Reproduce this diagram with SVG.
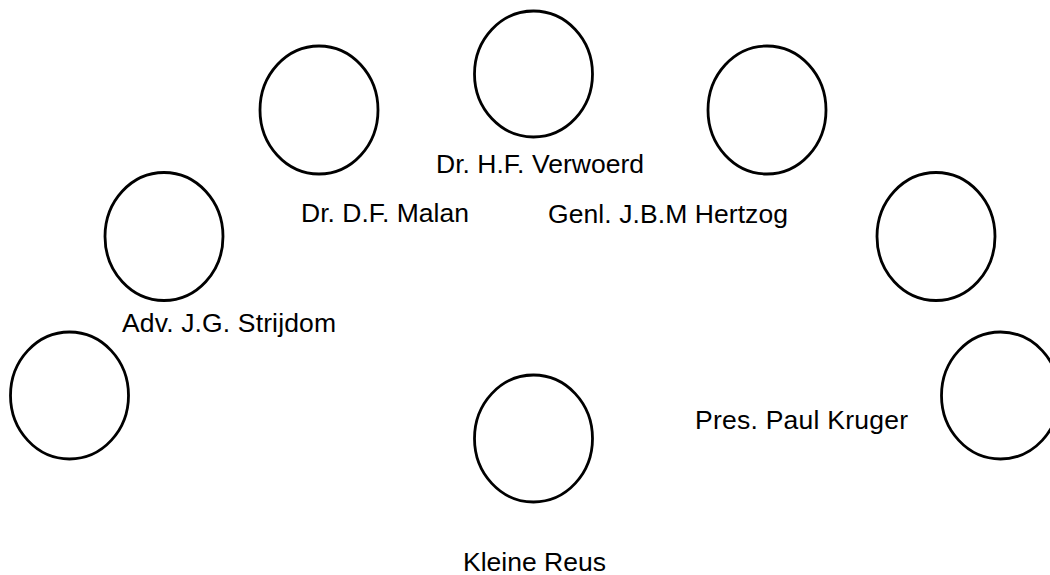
<svg xmlns="http://www.w3.org/2000/svg" width="1050" height="575" viewBox="0 0 1050 575">
<style>
.n{fill:none;stroke:#000;stroke-width:2.8}
.t{font-family:"Liberation Sans",Arial,sans-serif;font-size:26.5px;fill:#000}
</style>
<rect width="1050" height="575" fill="#fff"/>
<g id="connectors"/>
<g id="node-malan"><ellipse class="n" cx="319" cy="110" rx="59" ry="64"/><text class="t" x="301" y="222" textLength="168" lengthAdjust="spacing">Dr. D.F. Malan</text></g>
<g id="node-verwoerd"><ellipse class="n" cx="533.5" cy="74" rx="59" ry="63"/><text class="t" x="436" y="173" textLength="208" lengthAdjust="spacing">Dr. H.F. Verwoerd</text></g>
<g id="node-hertzog"><ellipse class="n" cx="767" cy="110" rx="59" ry="64"/><text class="t" x="548" y="223" textLength="240" lengthAdjust="spacing">Genl. J.B.M Hertzog</text></g>
<g id="node-strijdom"><ellipse class="n" cx="164" cy="236.5" rx="59" ry="64"/><text class="t" x="122" y="332" textLength="214" lengthAdjust="spacing">Adv. J.G. Strijdom</text></g>
<g id="node-right-upper"><ellipse class="n" cx="936" cy="236.5" rx="59" ry="64"/></g>
<g id="node-left"><ellipse class="n" cx="69.5" cy="395.5" rx="59" ry="63.5"/></g>
<g id="node-kruger"><ellipse class="n" cx="1000.5" cy="395.5" rx="59" ry="63.5"/><text class="t" x="695" y="429" textLength="213" lengthAdjust="spacing">Pres. Paul Kruger</text></g>
<g id="node-kleine-reus"><ellipse class="n" cx="533.5" cy="438.5" rx="59" ry="63.5"/><text class="t" x="463" y="571" textLength="143" lengthAdjust="spacing">Kleine Reus</text></g>
</svg>
